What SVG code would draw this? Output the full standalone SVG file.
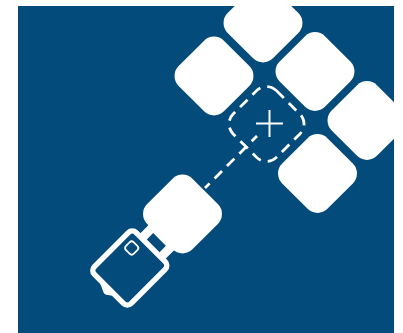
<svg xmlns="http://www.w3.org/2000/svg" width="403" height="333" viewBox="0 0 403 333">
<style>
.tile{fill:#fff}
.dash{fill:none;stroke:#fff;stroke-width:2.800;stroke-dasharray:10.5 7}
.thin{fill:none;stroke:#fff;stroke-width:2}
</style>
<defs>
<clipPath id="panel"><rect x="18" y="6" width="376" height="327"/></clipPath>
<rect id="d" x="-32" y="-32" width="64" height="64" rx="14" ry="14" transform="rotate(45)"/>
</defs>
<rect width="403" height="333" fill="#fff"/>
<rect id="background" x="18" y="6" width="376" height="327" fill="#024b7b"/>
<g clip-path="url(#panel)">
<g id="node-top"><use href="#d" class="tile" x="263" y="23"/></g>
<g id="node-left"><use href="#d" class="tile" x="214" y="76"/></g>
<g id="node-right"><use href="#d" class="tile" x="315" y="71.500"/></g>
<g id="node-far-right"><use href="#d" class="tile" x="367" y="120.500"/></g>
<g id="node-lower-right"><use href="#d" class="tile" x="317.500" y="173.500"/></g>
<g id="node-target">
<rect class="dash" x="-30.6" y="-30.6" width="61.2" height="61.2" rx="14" ry="14" transform="translate(266.5 124) rotate(45)"/>
<path class="thin" d="M256 123.500H283M269.500 110V137"/>
</g>
</g>
<g id="connectors">
<path class="dash" stroke-dashoffset="3" d="M257 136L205 188"/>
</g>
<g id="node-device">
<rect class="tile" x="-18" y="-26" width="36" height="52" transform="translate(156 243) rotate(45)"/>
<use href="#d" class="tile" x="182.500" y="214"/>
<rect x="-9" y="-5" width="18" height="10" fill="#024b7b" transform="translate(156 243) rotate(45)"/>
<path class="tile" d="M100 283L103 291Q104 295 108 295L114 296L108 287Z"/>
<rect x="-26" y="-29.500" width="52" height="59" rx="5.500" ry="5.500" fill="#024b7b" stroke="#fff" stroke-width="5.500" transform="translate(129.800 268) rotate(45)"/>
<rect x="-5.500" y="-5.500" width="11" height="11" rx="3" ry="3" fill="#024b7b" stroke="#fff" stroke-width="1.800" transform="translate(131.700 248) rotate(45)"/>
</g>
</svg>
